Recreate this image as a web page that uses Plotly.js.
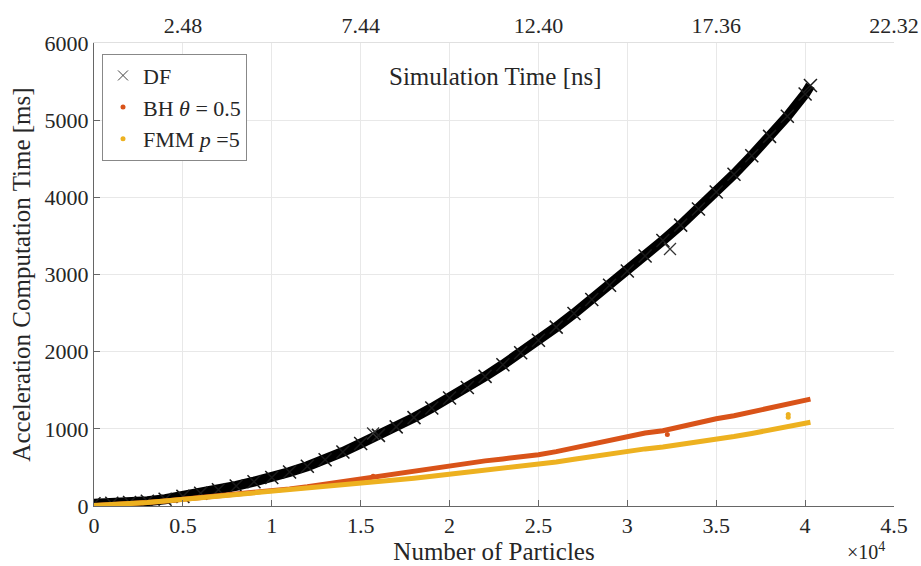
<!DOCTYPE html>
<html>
<head>
<meta charset="utf-8">
<script src="https://cdn.plot.ly/plotly-3.0.1.min.js"></script>
<style>html,body{margin:0;padding:0;background:#fff;}#chart{width:921px;height:566px;}</style>
</head>
<body>
<div id="chart"></div>
<script>
// Number of particles (x values)
const particles = [0,1000,2000,3000,4000,5000,6000,7000,8000,9000,10000,11000,12000,13000,14000,15000,16000,17000,18000,19000,20000,21000,22000,23000,24000,25000,26000,27000,28000,29000,30000,31000,32000,33000,34000,35000,36000,37000,38000,39000,40000,40300];
// Direct force (DF) computation time [ms]
const dfTime = [30,35,45,62,88,125,165,210,260,315,370,440,515,600,700,810,915,1025,1145,1270,1400,1536,1680,1830,1986,2149,2318,2494,2676,2860,3045,3240,3440,3640,3850,4070,4300,4540,4790,5050,5340,5450];
// Barnes-Hut theta = 0.5
const bhTime = [5,15,30,45,65,86,106,126,148,170,196,222,250,285,320,355,390,420,455,490,525,555,585,610,635,665,705,755,800,860,910,945,975,1030,1090,1130,1170,1220,1270,1320,1365,1385];
// FMM p = 5
const fmmTime = [5,15,30,45,65,85,105,125,150,170,190,210,230,250,270,290,312,335,360,385,410,435,460,485,510,537,570,605,640,680,715,740,765,795,830,865,900,940,980,1025,1070,1085];
// isolated outlier samples
const dfOutN = [15700, 32400];
const dfOutT = [940, 3330];
const bhOutN = [15700, 32250];
const bhOutT = [385, 925];
const fmmOutN = [39050, 39050];
const fmmOutT = [1150, 1185];

// axis ticks
const xTickVals = [0,5000,10000,15000,20000,25000,30000,35000,40000,45000];
const xTickText = ['0','0.5','1','1.5','2','2.5','3','3.5','4','4.5'];
const topTickVals = [5000,15000,25000,35000,45000];
const topTickText = ['2.48','7.44','12.40','17.36','22.32'];
const yTickVals = [0,1000,2000,3000,4000,5000,6000];

const FONT = 'Liberation Serif, Times New Roman, serif';
const TXT = '#262626';
const cDF = '#000000', cBH = '#D95319', cFMM = '#EDB120';

const traces = [
  {x: particles, y: dfTime, mode: 'lines', line: {color: cDF, width: 10}, showlegend: false, hoverinfo: 'skip'},
  {x: particles, y: dfTime, mode: 'markers', name: 'DF', showlegend: false,
   marker: {symbol: 'x-thin', size: 13, line: {color: '#1a1a1a', width: 1.5}}},
  {x: dfOutN, y: dfOutT, mode: 'markers', showlegend: false,
   marker: {symbol: 'x-thin', size: 12, line: {color: '#333', width: 1.3}}},
  {x: particles, y: bhTime, mode: 'lines', line: {color: cBH, width: 5}, showlegend: false, hoverinfo: 'skip'},
  {x: bhOutN, y: bhOutT, mode: 'markers', showlegend: false, marker: {color: cBH, size: 5}},
  {x: particles, y: fmmTime, mode: 'lines', line: {color: cFMM, width: 5}, showlegend: false, hoverinfo: 'skip'},
  {x: fmmOutN, y: fmmOutT, mode: 'markers', showlegend: false, marker: {color: cFMM, size: 5}},
  // legend entries (attached to the top axis so that it is drawn)
  {x: [null], y: [null], xaxis: 'x2', mode: 'markers', name: 'DF',
   marker: {symbol: 'x-thin', size: 10, line: {color: '#444', width: 1}}},
  {x: [null], y: [null], xaxis: 'x2', mode: 'markers', name: 'BH <i>θ</i> = 0.5', marker: {color: cBH, size: 5}},
  {x: [null], y: [null], xaxis: 'x2', mode: 'markers', name: 'FMM <i>p</i> =5', marker: {color: cFMM, size: 5}}
];

const layout = {
  width: 921, height: 566,
  margin: {l: 94, r: 27, t: 43, b: 60},
  paper_bgcolor: '#fff', plot_bgcolor: '#fff',
  font: {family: FONT, size: 22, color: TXT},
  showlegend: true,
  legend: {x: 0.01, y: 0.977, xanchor: 'left', yanchor: 'top', bgcolor: '#fff',
           bordercolor: '#888', borderwidth: 1, font: {family: FONT, size: 22, color: TXT},
           tracegroupgap: 0},
  xaxis: {range: [0, 45000], tickvals: xTickVals, ticktext: xTickText, ticks: 'inside', ticklen: 6,
          tickcolor: '#666', showline: true, linecolor: '#666', linewidth: 1, mirror: false,
          showgrid: true, gridcolor: '#e8e8e8', gridwidth: 1, zeroline: false,
          tickfont: {family: FONT, size: 22, color: TXT},
          title: {text: 'Number of Particles', font: {family: FONT, size: 25, color: TXT}, standoff: 4}},
  xaxis2: {range: [0, 45000], overlaying: 'x', side: 'top', anchor: 'y', tickvals: topTickVals, ticktext: topTickText,
           ticks: '', showline: true, linecolor: '#e0e0e0', showgrid: false, zeroline: false,
           tickfont: {family: FONT, size: 22, color: TXT}},
  yaxis: {range: [0, 6000], tickvals: yTickVals, ticks: 'inside', ticklen: 6, tickcolor: '#666',
          showline: true, linecolor: '#666', linewidth: 1, showgrid: true, gridcolor: '#e8e8e8', zeroline: false,
          tickfont: {family: FONT, size: 22, color: TXT},
          title: {text: 'Acceleration Computation Time [ms]', font: {family: FONT, size: 25, color: TXT}, standoff: 6}},
  annotations: [
    {text: 'Simulation Time [ns]', xref: 'paper', yref: 'paper', x: 0.5025, y: 0.927,
     xanchor: 'center', yanchor: 'middle', showarrow: false,
     font: {family: FONT, size: 25, color: TXT}},
    {text: '×10<sup>4</sup>', xref: 'paper', yref: 'paper', x: 0.965, y: -0.097,
     xanchor: 'center', yanchor: 'middle', showarrow: false,
     font: {family: FONT, size: 20, color: TXT}}
  ]
};

Plotly.newPlot('chart', traces, layout, {staticPlot: true});
</script>
</body>
</html>
